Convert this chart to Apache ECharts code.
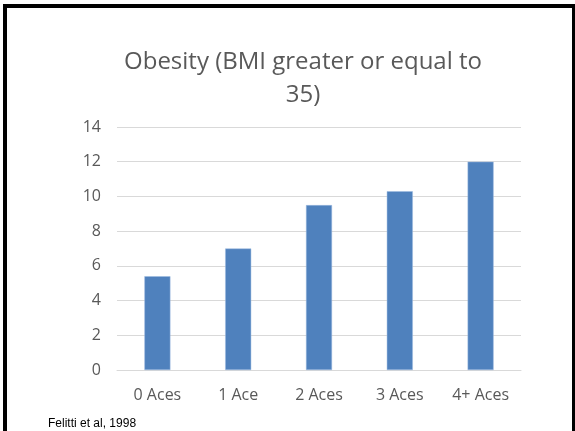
<!DOCTYPE html>
<html>
<head>
<meta charset="utf-8">
<script src="https://cdn.jsdelivr.net/npm/echarts@6/dist/echarts.min.js"></script>
<style>
  html, body { margin: 0; padding: 0; background: #fff; }
  #chart { width: 575px; height: 431px; }
</style>
</head>
<body>
<div id="chart"></div>
<script>
// Obesity prevalence (%) by number of adverse childhood experiences
const categories = ['0 Aces', '1 Ace', '2 Aces', '3 Aces', '4+ Aces'];
const obesityValues = [5.4, 7.0, 9.5, 10.3, 12.0];
const yTicks = { min: 0, max: 14, interval: 2 };
const titleLines = ['Obesity (BMI greater or equal to', '35)'];
const sourceNote = 'Felitti et al, 1998';

const chart = echarts.init(document.getElementById('chart'), null, { renderer: 'canvas' });

chart.setOption({
  backgroundColor: '#ffffff',
  animation: false,
  title: {
    text: titleLines.join('\n'),
    left: 298,
    top: 41,
    textAlign: 'center',
    textStyle: {
      fontFamily: 'Open Sans',
      fontSize: 24,
      fontWeight: 'normal',
      color: '#595959',
      lineHeight: 33
    }
  },
  grid: { left: 117, right: 54, top: 127, bottom: 61 },
  xAxis: {
    type: 'category',
    data: categories,
    axisLine: { lineStyle: { color: '#d9d9d9', width: 1 } },
    axisTick: { show: false },
    axisLabel: { color: '#595959', fontFamily: 'Open Sans', fontSize: 16, margin: 17 }
  },
  yAxis: {
    type: 'value',
    min: yTicks.min,
    max: yTicks.max,
    interval: yTicks.interval,
    axisLine: { show: false },
    axisTick: { show: false },
    splitLine: { lineStyle: { color: '#d9d9d9', width: 1 } },
    axisLabel: { color: '#595959', fontFamily: 'Open Sans', fontSize: 16, margin: 16 }
  },
  series: [{
    type: 'bar',
    data: obesityValues,
    barWidth: 26,
    itemStyle: { color: '#4f81bd', borderColor: '#9dbbe0', borderWidth: 0.5 }
  }],
  graphic: [
    // frame drawn around the slide
    { type: 'rect', shape: { x: 3, y: 4, width: 4, height: 431 }, style: { fill: '#000' }, z: 100 },
    { type: 'rect', shape: { x: 3, y: 4, width: 571, height: 4 }, style: { fill: '#000' }, z: 100 },
    { type: 'rect', shape: { x: 572, y: 4, width: 3, height: 431 }, style: { fill: '#000' }, z: 100 },
    {
      type: 'text',
      left: 48,
      top: 418,
      style: { text: sourceNote, font: '12px "Liberation Sans", Arial, sans-serif', fill: '#000' },
      z: 100
    }
  ]
});
</script>
</body>
</html>
